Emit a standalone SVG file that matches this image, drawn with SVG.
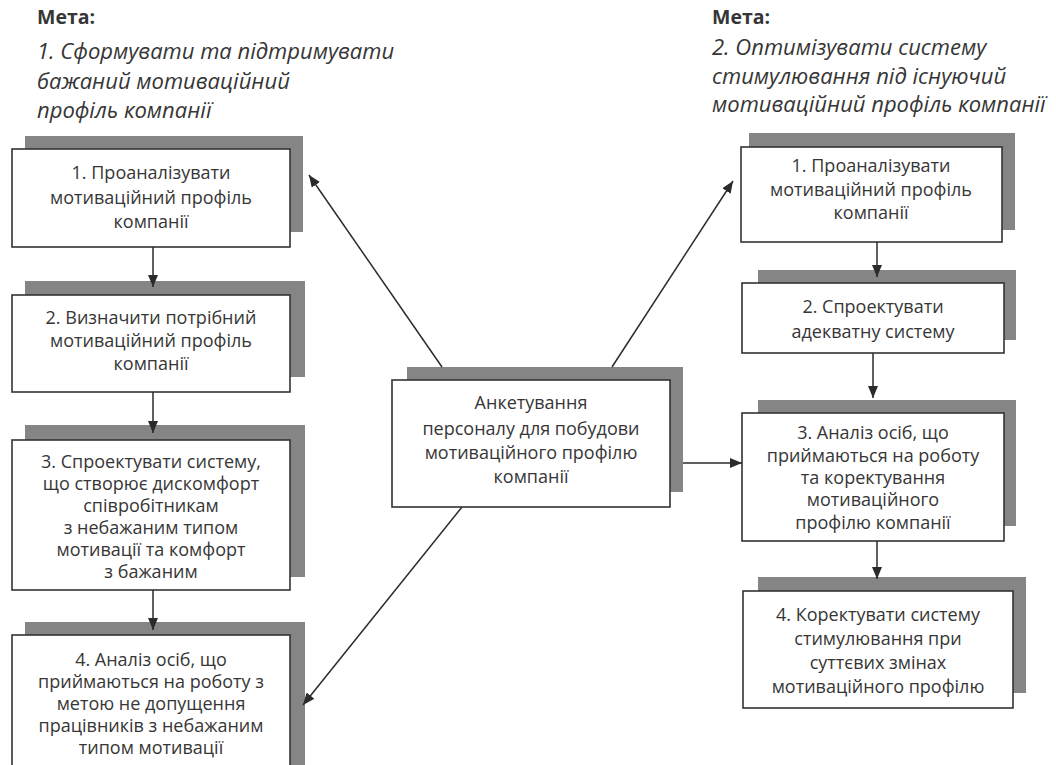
<svg xmlns="http://www.w3.org/2000/svg" width="1056" height="765" viewBox="0 0 1056 765">
  <defs>
    <marker id="ah" viewBox="0 0 12 10" refX="12" refY="5" markerWidth="12" markerHeight="10" markerUnits="userSpaceOnUse" orient="auto">
      <path d="M0,0 L12,5 L0,10 Z" fill="#2b2b2b"/>
    </marker>
    <style>
      .shadow { fill: #858585; }
      .box { fill: #ffffff; stroke: #333333; stroke-width: 1.6; }
      .t { font-family: "Open Sans", "Noto Sans", "DejaVu Sans", sans-serif; font-size: 18px; fill: #363636; text-anchor: middle; }
      .h { font-family: "Open Sans", "Noto Sans", "DejaVu Sans", sans-serif; font-size: 22px; fill: #363636; }
      .hb { font-weight: bold; font-size: 19.5px; }
      .hi { font-style: italic; }
      .c { stroke: #2b2b2b; stroke-width: 1.5; fill: none; marker-end: url(#ah); }
    </style>
  </defs>
  <rect width="1056" height="765" fill="#ffffff"/>

  <g id="goal-left">
    <text class="h hb" x="37" y="24">Мета:</text>
    <text class="h hi" x="37" y="59">1. Сформувати та підтримувати</text>
    <text class="h hi" x="37" y="89">бажаний мотиваційний</text>
    <text class="h hi" x="37" y="118">профіль компанії</text>
  </g>
  <g id="goal-right">
    <text class="h hb" x="712" y="24">Мета:</text>
    <text class="h hi" x="712" y="55">2. Оптимізувати систему</text>
    <text class="h hi" x="712" y="84">стимулювання під існуючий</text>
    <text class="h hi" x="712" y="112">мотиваційний профіль компанії</text>
  </g>

  <g id="L1">
    <rect class="shadow" x="25" y="136" width="278" height="96"/>
    <rect class="box" x="12" y="149" width="278" height="98"/>
    <text class="t" x="151" y="179">1. Проаналізувати</text>
    <text class="t" x="151" y="204">мотиваційний профіль</text>
    <text class="t" x="151" y="228">компанії</text>
  </g>
  <g id="L2">
    <rect class="shadow" x="25" y="281" width="280" height="96"/>
    <rect class="box" x="12" y="295" width="278" height="97"/>
    <text class="t" x="151" y="324">2. Визначити потрібний</text>
    <text class="t" x="151" y="347">мотиваційний профіль</text>
    <text class="t" x="151" y="370">компанії</text>
  </g>
  <g id="L3">
    <rect class="shadow" x="25" y="425" width="280" height="152"/>
    <rect class="box" x="12" y="440" width="278" height="150"/>
    <text class="t" x="151" y="468">3. Спроектувати систему,</text>
    <text class="t" x="151" y="490">що створює дискомфорт</text>
    <text class="t" x="151" y="512">співробітникам</text>
    <text class="t" x="151" y="534">з небажаним типом</text>
    <text class="t" x="151" y="556">мотивації та комфорт</text>
    <text class="t" x="151" y="578">з бажаним</text>
  </g>
  <g id="L4">
    <rect class="shadow" x="25" y="622" width="280" height="160"/>
    <rect class="box" x="12" y="635" width="278" height="150"/>
    <text class="t" x="151" y="666">4. Аналіз осіб, що</text>
    <text class="t" x="151" y="688">приймаються на роботу з</text>
    <text class="t" x="151" y="710">метою не допущення</text>
    <text class="t" x="151" y="732">працівників з небажаним</text>
    <text class="t" x="151" y="754">типом мотивації</text>
  </g>

  <g id="C">
    <rect class="shadow" x="407" y="367" width="276" height="125"/>
    <rect class="box" x="392" y="380" width="278" height="127"/>
    <text class="t" x="531" y="409">Анкетування</text>
    <text class="t" x="531" y="435">персоналу для побудови</text>
    <text class="t" x="531" y="459">мотиваційного профілю</text>
    <text class="t" x="531" y="483">компанії</text>
  </g>

  <g id="R1">
    <rect class="shadow" x="749" y="133" width="266" height="97"/>
    <rect class="box" x="741" y="147" width="261" height="95"/>
    <text class="t" x="871" y="172">1. Проаналізувати</text>
    <text class="t" x="871" y="196">мотиваційний профіль</text>
    <text class="t" x="871" y="219">компанії</text>
  </g>
  <g id="R2">
    <rect class="shadow" x="758" y="270" width="258" height="70"/>
    <rect class="box" x="742" y="283" width="262" height="70"/>
    <text class="t" x="873" y="313">2. Спроектувати</text>
    <text class="t" x="873" y="338">адекватну систему</text>
  </g>
  <g id="R3">
    <rect class="shadow" x="758" y="400" width="258" height="126"/>
    <rect class="box" x="742" y="413" width="262" height="128"/>
    <text class="t" x="873" y="439">3. Аналіз осіб, що</text>
    <text class="t" x="873" y="462">приймаються на роботу</text>
    <text class="t" x="873" y="484">та коректування</text>
    <text class="t" x="873" y="506">мотиваційного</text>
    <text class="t" x="873" y="529">профілю компанії</text>
  </g>
  <g id="R4">
    <rect class="shadow" x="758" y="577" width="268" height="116"/>
    <rect class="box" x="743" y="591" width="270" height="117"/>
    <text class="t" x="878" y="621">4. Коректувати систему</text>
    <text class="t" x="878" y="645">стимулювання при</text>
    <text class="t" x="878" y="669">суттєвих змінах</text>
    <text class="t" x="878" y="693">мотиваційного профілю</text>
  </g>

  <g id="connectors">
    <line class="c" x1="153" y1="247" x2="153" y2="287"/>
    <line class="c" x1="153" y1="392" x2="153" y2="433"/>
    <line class="c" x1="153" y1="590" x2="153" y2="630"/>
    <line class="c" x1="877" y1="242" x2="877" y2="277"/>
    <line class="c" x1="873" y1="353" x2="873" y2="398"/>
    <line class="c" x1="877" y1="541" x2="877" y2="579"/>
    <line class="c" x1="683" y1="463" x2="742" y2="463"/>
    <line class="c" x1="442" y1="367" x2="309" y2="175"/>
    <line class="c" x1="612" y1="367" x2="733" y2="181"/>
    <line class="c" x1="462" y1="507" x2="303" y2="705"/>
  </g>
</svg>
